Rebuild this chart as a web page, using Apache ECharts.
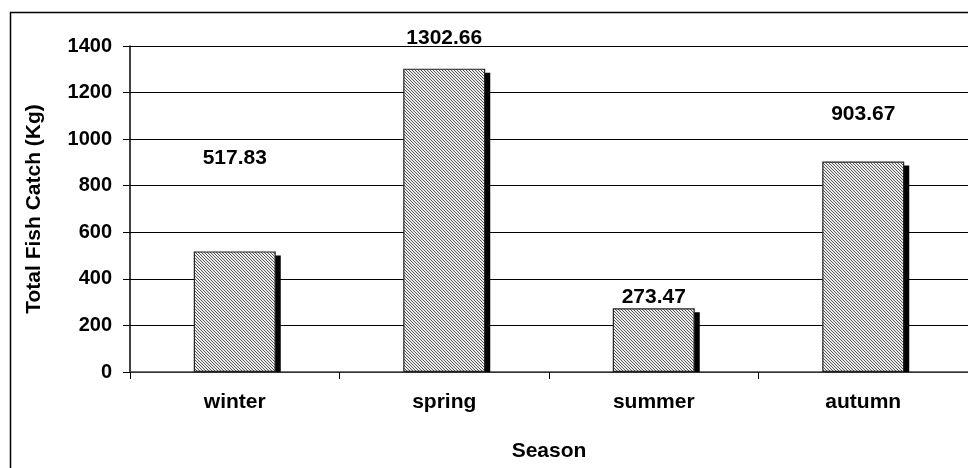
<!DOCTYPE html>
<html><head><meta charset="utf-8">
<script src="https://cdn.jsdelivr.net/npm/echarts@6/dist/echarts.min.js"></script>
<style>html,body{margin:0;padding:0;background:#fff}#c{width:968px;height:468px}</style>
</head><body><div id="c"></div>
<script>
var categories = ['winter', 'spring', 'summer', 'autumn'];
var values = [517.83, 1302.66, 273.47, 903.67];
var yTicks = [0, 200, 400, 600, 800, 1000, 1200, 1400];
// label lift above each bar (styling only)
var labelLift = [83, 20, 1, 37];

var BAR_W = 82;
var pc = document.createElement('canvas');
pc.width = 3; pc.height = 3;
var g = pc.getContext('2d');
g.fillStyle = '#ececec'; g.fillRect(0, 0, 3, 3);
g.fillStyle = '#5a5a5a';
for (var i = 0; i < 3; i++) { g.fillRect(i, i, 1, 1); }

var chart = echarts.init(document.getElementById('c'));
var font = 'Liberation Sans, Arial, sans-serif';
chart.setOption({
  animation: false,
  graphic: [{
    type: 'rect', shape: {x: 10.5, y: 12.5, width: 1000, height: 500},
    style: {fill: 'none', stroke: '#000', lineWidth: 1.5}, z: -1
  }],
  grid: {left: 130, top: 46, width: 840, height: 326},
  xAxis: {
    type: 'category', data: categories,
    name: 'Season', nameLocation: 'middle', nameGap: 69,
    nameTextStyle: {fontFamily: font, fontWeight: 'bold', fontSize: 21, color: '#000'},
    axisLine: {lineStyle: {color: '#444', width: 1.5}},
    axisTick: {show: true, length: 7, lineStyle: {color: '#000'}},
    axisLabel: {fontFamily: font, fontWeight: 'bold', fontSize: 21, color: '#000', margin: 20}
  },
  yAxis: {
    type: 'value', min: 0, max: 1400, interval: 200,
    name: 'Total Fish Catch (Kg)', nameLocation: 'middle', nameGap: 85, nameRotate: 90,
    nameTextStyle: {fontFamily: font, fontWeight: 'bold', fontSize: 21, color: '#000'},
    axisLine: {show: true, lineStyle: {color: '#000', width: 1.5}},
    axisTick: {show: true, length: 7, lineStyle: {color: '#000'}},
    axisLabel: {fontFamily: font, fontWeight: 'bold', fontSize: 20, color: '#000', margin: 18,
      formatter: function (v) { return yTicks.indexOf(v) >= 0 ? String(v) : ''; }},
    splitLine: {lineStyle: {color: '#000', width: 1}}
  },
  series: [{
    type: 'custom', z: 1,
    data: values.map(function (v, i) { return [i, v]; }),
    renderItem: function (params, api) {
      var top = api.coord([api.value(0), api.value(1)]);
      var base = api.coord([api.value(0), 0]);
      return {
        type: 'rect',
        shape: {x: top[0] - BAR_W / 2 + 5, y: top[1] + 4, width: BAR_W, height: base[1] - top[1] - 4},
        style: {fill: '#000'}
      };
    }
  }, {
    type: 'bar', barWidth: BAR_W, z: 2,
    data: values.map(function (v, i) {
      return {value: v, label: {distance: labelLift[i]}};
    }),
    itemStyle: {
      color: {image: pc, repeat: 'repeat'},
      borderColor: '#222', borderWidth: 1.2
    },
    label: {show: true, position: 'top', fontFamily: font, fontWeight: 'bold', fontSize: 21, color: '#000',
      formatter: function (p) { return p.value.toFixed(2); }}
  }]
});
</script></body></html>
